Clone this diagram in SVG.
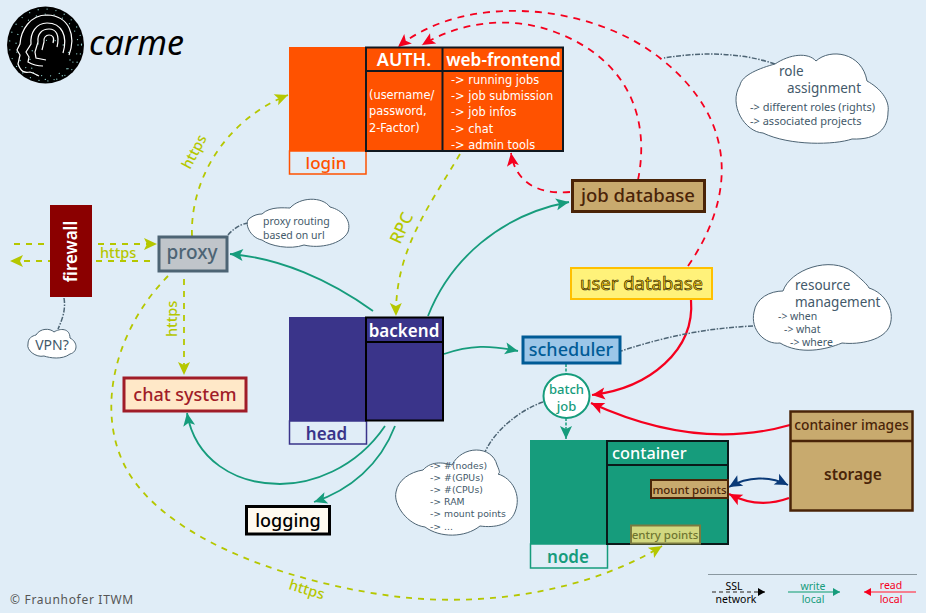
<svg xmlns="http://www.w3.org/2000/svg" width="926" height="613" viewBox="0 0 926 613">
<style>
text{font-family:"Noto Sans","Open Sans","DejaVu Sans",sans-serif}
.c{fill:none;stroke-width:1.800}
.g{stroke:#b5c700;stroke-dasharray:6 6}
.r{stroke:#f5001e;stroke-dasharray:7 6}
.rs{stroke:#f5001e;stroke-width:2.200}
.t{stroke:#169c7c}
.n{stroke:#4d6474;stroke-width:1.500;stroke-dasharray:5 1.500 1.500 1.500}
.cloud{fill:#fff;stroke:#4d6474;stroke-width:1}
.ct{fill:#43596a}
.m{text-anchor:middle}
.gl{fill:#b5c700;font-size:14.500px;font-weight:500}
.w{fill:#fff}
.tight text{font-family:"DejaVu Sans",sans-serif;font-size:9.300px}
.list text{font-family:"DejaVu Sans",sans-serif;font-size:11.400px}
</style>
<defs>
<marker id="ag" markerUnits="userSpaceOnUse" markerWidth="16" markerHeight="14" viewBox="0 -7 14 14" refX="13" orient="auto"><path d="M0,-6 L13,0 L0,6 L3,0z" fill="#b5c700"/></marker>
<marker id="ar" markerUnits="userSpaceOnUse" markerWidth="16" markerHeight="14" viewBox="0 -7 14 14" refX="13" orient="auto"><path d="M0,-6 L13,0 L0,6 L3,0z" fill="#f5001e"/></marker>
<marker id="at" markerUnits="userSpaceOnUse" markerWidth="16" markerHeight="14" viewBox="0 -7 14 14" refX="13" orient="auto"><path d="M0,-6 L13,0 L0,6 L3,0z" fill="#169c7c"/></marker>
<marker id="ab" markerUnits="userSpaceOnUse" markerWidth="16" markerHeight="14" viewBox="0 -7 14 14" refX="13" orient="auto-start-reverse"><path d="M0,-6 L13,0 L0,6 L3,0z" fill="#0a3a78"/></marker>
<marker id="ak" markerUnits="userSpaceOnUse" markerWidth="10" markerHeight="10" viewBox="0 -5 8 10" refX="7" orient="auto"><path d="M0,-4 L7,0 L0,4z" fill="#000"/></marker>
<marker id="alt" markerUnits="userSpaceOnUse" markerWidth="10" markerHeight="10" viewBox="0 -5 8 10" refX="7" orient="auto"><path d="M0,-4 L7,0 L0,4z" fill="#169c7c"/></marker>
<marker id="alr" markerUnits="userSpaceOnUse" markerWidth="10" markerHeight="10" viewBox="0 -5 8 10" refX="7" orient="auto"><path d="M0,-4 L7,0 L0,4z" fill="#f5001e"/></marker>
</defs>
<rect width="926" height="613" fill="#e0edf7"/>

<g id="logo">
<circle cx="45.500" cy="45" r="38.500" fill="#000"/>
<g fill="none" stroke="#8fd0cc" stroke-width="1.300" stroke-linecap="round" stroke-dasharray="0 9">
<circle cx="45.500" cy="45" r="36"/><circle cx="47" cy="45" r="31"/><circle cx="50" cy="60" r="20"/>
</g>
<g fill="none" stroke="#fff" stroke-width="1.200">
<path d="M69,55 C76,36 70,16 47,15 C30,15 21,30 20,44 L17,50 L20,55 L18,64 C21,72 24,73 30,72 C34,73 37,75 39,76"/>
<path d="M63,53 C68,36 62,23 47,23 C36,23 30,33 31,44 L26,52 L29,57 L28,62 C33,65 38,66 43,66"/>
<path d="M57,47 C60,35 56,29 49,29 C42,29 37,34 38,42 L35,52 L36,58 L46,60"/>
<path d="M53,43 C55,37 52,35 49,35 C46,35 43,38 44,42 L42,50"/>
</g>
</g>
<text id="title" x="89" y="55" font-size="34" font-style="italic" fill="#000">carme</text>

<g id="connectors">
<path class="c r" d="M688,266 C730,205 745,125 660,58 C590,3 465,-8 398,47" marker-end="url(#ar)"/>
<path class="c r" d="M638,180 C650,120 630,60 555,32 C510,15 460,22 422,45" marker-end="url(#ar)"/>
<path class="c r" d="M570,192 C535,195 515,180 511,153" marker-end="url(#ar)"/>
<path class="c g" d="M14,244 L157,244" marker-end="url(#ag)"/>
<path class="c g" d="M150,261 L10,261" marker-end="url(#ag)"/>
<path class="c g" d="M192,236 C190,180 225,120 288,95" marker-end="url(#ag)"/>
<path class="c g" d="M184,279 L184,375" marker-end="url(#ag)"/>
<path class="c g" d="M168,276 C110,335 95,420 130,475 C175,545 300,585 400,597 C490,607 590,590 662,546" marker-end="url(#ag)"/>
<path class="c g" d="M460,154 C430,205 395,250 396,316" marker-end="url(#ag)"/>
<path class="c t" d="M373,311 C330,280 280,258 230,254" marker-end="url(#at)"/>
<path class="c t" d="M428,316 C450,260 500,215 569,202" marker-end="url(#at)"/>
<path class="c t" d="M444,354 C470,345 490,345 518,351" marker-end="url(#at)"/>
<path class="c t" d="M385,426 C355,470 310,484 280,484 C235,484 195,460 187,413" marker-end="url(#at)"/>
<path class="c t" d="M395,426 C380,465 350,490 314,502" marker-end="url(#at)"/>
<path class="c rs" d="M691,300 C695,350 650,388 592,395" marker-end="url(#ar)"/>
<path class="c rs" d="M790,425 C720,445 650,430 591,403" marker-end="url(#ar)"/>
<path class="c rs" d="M789,498 C770,505 750,505 729,494" marker-end="url(#ar)"/>
<path class="c" stroke="#0a3a78" d="M729,487 C748,476 770,476 788,485" marker-start="url(#ab)" marker-end="url(#ab)"/>
<path class="c t" stroke-dasharray="3 1.500" style="stroke-width:1.500" d="M566,364 L566,374"/>
<path class="c t" stroke-dasharray="3 1.500" style="stroke-width:1.500" d="M566,418 L566,439" marker-end="url(#at)"/>
<path class="c n" d="M775,64 C740,52 700,52 664,58"/>
<path class="c n" d="M228,235 C232,230 240,224 248,223"/>
<path class="c n" d="M64,298 C66,310 62,320 58,329"/>
<path class="c n" d="M753,326 C710,328 670,335 621,351"/>
<path class="c n" d="M543,402 C520,410 495,430 485,452"/>
</g>

<g id="login">
<rect x="289" y="47" width="77" height="104" fill="#ff5200"/>
<rect x="289.500" y="151" width="76.500" height="23" fill="none" stroke="#ff5200" stroke-width="1.500"/>
<text x="326" y="169" class="m" font-size="17" font-weight="500" fill="#ff5200">login</text>
</g>
<g id="auth">
<rect x="366" y="47.500" width="197" height="103.500" fill="#ff5200" stroke="#101820" stroke-width="2"/>
<path d="M442.500,47 V151 M366,71 H563" fill="none" stroke="#101820" stroke-width="2"/>
<text x="404" y="66" class="m w" font-size="18" font-weight="600">AUTH.</text>
<g class="w list">
<text x="369" y="99">(username/</text><text x="369" y="115">password,</text><text x="369" y="132">2-Factor)</text>
</g>
</g>
<g id="web-frontend">
<text x="503.500" y="66" class="m w" font-size="17.200" font-weight="600">web-frontend</text>
<g class="w list">
<text x="451" y="84">-&gt; running jobs</text><text x="451" y="100">-&gt; job submission</text><text x="451" y="116">-&gt; job infos</text><text x="451" y="133">-&gt; chat</text><text x="451" y="149">-&gt; admin tools</text>
</g>
</g>

<g id="firewall">
<rect x="50" y="205" width="42" height="92" fill="#8b0000"/>
<text transform="translate(77,251.500) rotate(-90)" class="m w" font-size="17" font-weight="600">firewall</text>
</g>
<g id="proxy">
<rect x="159" y="237" width="68" height="34" fill="#c0c5ca" stroke="#4d6474" stroke-width="3"/>
<text x="192" y="259" class="m" fill="#4d6474" font-size="19" font-weight="500">proxy</text>
</g>
<g id="chat-system">
<rect x="124" y="378" width="122" height="33" fill="#ffe8c8" stroke="#a01c28" stroke-width="3"/>
<text x="185" y="401" class="m" font-size="18" fill="#a01c28" font-weight="500">chat system</text>
</g>
<g id="head">
<rect x="289" y="317" width="78" height="104" fill="#3a348a"/>
<rect x="289.500" y="421" width="77" height="23" fill="none" stroke="#3a348a" stroke-width="1.500"/>
<text x="326.500" y="440" class="m" font-size="17" font-weight="600" fill="#3a348a">head</text>
</g>
<g id="backend">
<rect x="366" y="317.500" width="77" height="103" fill="#3a348a" stroke="#000" stroke-width="2"/>
<path d="M366,342 H443" stroke="#000" stroke-width="2"/>
<text x="404" y="337" class="m w" font-size="17" font-weight="600">backend</text>
</g>
<g id="logging">
<rect x="246.500" y="506.500" width="83" height="27.500" fill="#fffaf0" stroke="#000" stroke-width="3"/>
<text x="288" y="527" class="m" font-size="18" font-weight="500" fill="#000">logging</text>
</g>
<g id="job-database">
<rect x="572.500" y="180.500" width="132" height="31" fill="#c8aa6e" stroke="#4a2408" stroke-width="3"/>
<text x="638" y="202" class="m" font-size="18.500" font-weight="500" fill="#4a2408">job database</text>
</g>
<g id="user-database">
<rect x="571" y="268" width="141" height="31" fill="#fff27a" stroke="#ffc000" stroke-width="2"/>
<text x="641.500" y="290" class="m" font-size="18.500" fill="#ffcc00" stroke="#111" stroke-width=".6">user database</text>
</g>
<g id="scheduler">
<rect x="523" y="337" width="97" height="26" fill="#9cc6e8" stroke="#005b96" stroke-width="3"/>
<text x="571" y="356" class="m" font-size="18" font-weight="500" fill="#005b96">scheduler</text>
</g>
<g id="batch-job">
<ellipse cx="566.500" cy="396" rx="23" ry="22" fill="#fff" stroke="#169c7c" stroke-width="2"/>
<text x="566.500" y="394" class="m" font-size="13" fill="#169c7c" font-weight="500">batch</text>
<text x="566.500" y="411" class="m" font-size="13" fill="#169c7c" font-weight="500">job</text>
</g>
<g id="node">
<rect x="530" y="440" width="77" height="104" fill="#169c7c"/>
<rect x="530.500" y="544" width="77" height="24" fill="none" stroke="#169c7c" stroke-width="1.500"/>
<text x="568" y="563" class="m" font-size="17" font-weight="600" fill="#169c7c">node</text>
</g>
<g id="container">
<rect x="607" y="441" width="121" height="103" fill="#169c7c" stroke="#0a1a1a" stroke-width="2"/>
<path d="M607,465 H728" stroke="#0a1a1a" stroke-width="2"/>
<text x="612" y="459" class="w" font-size="16.300" font-weight="500">container</text>
</g>
<g id="mount-points">
<rect x="651" y="480" width="77" height="18" fill="#c8aa6e" stroke="#4a2408" stroke-width="2"/>
<text x="689.500" y="493.500" class="m" font-size="11.500" font-weight="500" fill="#4a2408">mount points</text>
</g>
<g id="entry-points">
<rect x="631" y="525.500" width="69" height="18" fill="#d2d880" stroke="#7a7a40" stroke-width="2"/>
<text x="665" y="538.500" class="m" font-size="11.500" fill="#6f7530" font-weight="500">entry points</text>
</g>
<g id="storage">
<rect x="790.500" y="411.500" width="122" height="99" fill="#c8aa6e" stroke="#4a2408" stroke-width="2.500"/>
<path d="M790,441 H913" stroke="#4a2408" stroke-width="2.500"/>
<text x="851.500" y="430" class="m" font-size="13.800" font-weight="500" fill="#4a2408">container images</text>
<text x="853" y="480" class="m" font-size="15.500" font-weight="600" fill="#4a2408">storage</text>
</g>

<g id="role-assignment">
<path class="cloud" d="M775,64 C790,54 808,52 816,61 C830,48 862,52 867,81 C880,88 890,100 888,112 C888,128 878,140 852,139 C835,145 790,146 763,133 C745,132 728,105 740,85 C742,75 760,68 775,64z"/>
<text x="779" y="76" class="ct" font-size="13.500">role</text>
<text x="787" y="93" class="ct" font-size="13.500">assignment</text>
<text x="750" y="111" class="ct" font-size="11">-&gt; different roles (rights)</text>
<text x="750" y="125" class="ct" font-size="11">-&gt; associated projects</text>
</g>
<g id="proxy-routing">
<path class="cloud" d="M262,214 C270,206 285,208 290,208 C300,197 322,196 330,207 C342,210 352,220 348,232 C342,244 320,249 304,245 C290,250 270,246 262,240 C250,238 243,222 250,218 C254,215 258,214 262,214z"/>
<text x="263" y="225" class="ct" font-size="10.500">proxy routing</text>
<text x="263" y="238.500" class="ct" font-size="10.500">based on url</text>
</g>
<g id="vpn">
<path class="cloud" d="M36,335 C40,328 50,328 54,332 C60,328 70,328 70,338 C78,342 78,352 70,354 C62,360 50,358 44,356 C36,358 26,350 28,344 C28,338 32,336 36,335z"/>
<text x="52" y="350" class="m ct" font-size="14">VPN?</text>
</g>
<g id="resource-management">
<path class="cloud" d="M783,291 C790,270 830,255 853,272 C860,278 868,285 869,288 C885,293 895,310 890,325 C885,340 860,345 842,343 C825,350 800,355 780,343 C765,345 750,330 754,312 C756,298 770,291 783,291z"/>
<text x="795" y="290" class="ct" font-size="13.500">resource</text>
<text x="795" y="307" class="ct" font-size="13.500">management</text>
<text x="778" y="320" class="ct" font-size="10.500">-&gt; when</text>
<text x="784" y="333" class="ct" font-size="10.500">-&gt; what</text>
<text x="790" y="346" class="ct" font-size="10.500">-&gt; where</text>
</g>
<g id="requirements">
<path class="cloud" d="M423,470 C432,460 445,463 452,465 C462,445 492,445 497,465 C500,472 500,473 498,474 C512,478 522,495 515,512 C510,525 495,528 480,526 C465,538 440,538 425,527 C408,525 393,505 396,492 C398,480 410,472 423,470z"/>
<g class="ct tight">
<text x="430" y="469">-&gt; #(nodes)</text><text x="430" y="481">-&gt; #(GPUs)</text><text x="430" y="493">-&gt; #(CPUs)</text><text x="430" y="505">-&gt; RAM</text><text x="430" y="517">-&gt; mount points</text><text x="430" y="530">-&gt; ...</text>
</g>
</g>

<g id="labels">
<text transform="translate(190,170) rotate(-62)" class="gl">https</text>
<text x="100" y="258" class="gl">https</text>
<text transform="translate(177,337) rotate(-90)" class="gl">https</text>
<text transform="translate(400,245) rotate(-65)" class="gl" style="font-size:17px">RPC</text>
<text transform="translate(288,589) rotate(17)" class="gl">https</text>
<text x="10" y="604" font-size="12" fill="#555" letter-spacing=".7">© Fraunhofer ITWM</text>
</g>

<g id="legend">
<path d="M708,574.500 H917" stroke="#8a98a0" stroke-width="1"/>
<path d="M712,592 H765" stroke="#666" stroke-width="1.500" stroke-dasharray="4 3" marker-end="url(#ak)"/>
<path d="M788,592 H840" stroke="#74c4b2" stroke-width="2" marker-end="url(#alt)"/>
<path d="M916,592 H864" stroke="#f58090" stroke-width="2" marker-end="url(#alr)"/>
<text x="734" y="590" class="m" font-size="10.500" fill="#000">SSL</text>
<text x="736" y="603" class="m" font-size="10.500" fill="#000">network</text>
<text x="813" y="590" class="m" font-size="10.500" fill="#169c7c">write</text>
<text x="813" y="603" class="m" font-size="10.500" fill="#169c7c">local</text>
<text x="891" y="589" class="m" font-size="10.500" fill="#f5001e">read</text>
<text x="891" y="603" class="m" font-size="10.500" fill="#f5001e">local</text>
</g>
</svg>
